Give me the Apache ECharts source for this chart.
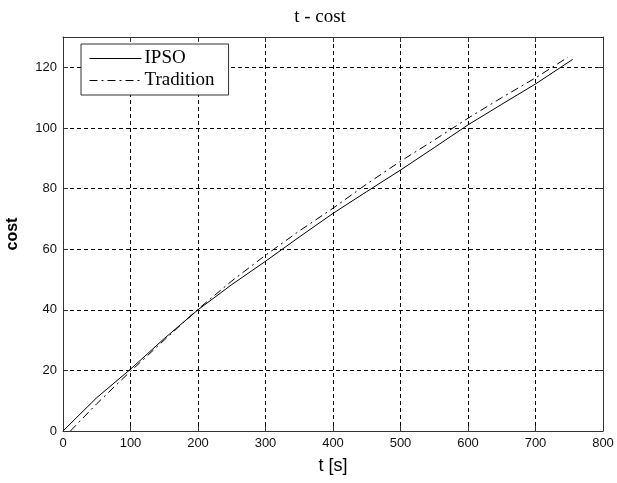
<!DOCTYPE html>
<html>
<head>
<meta charset="utf-8">
<script src="https://cdn.jsdelivr.net/npm/echarts@6/dist/echarts.min.js"></script>
<style>html,body{margin:0;padding:0;background:#fff;}#c{width:617px;height:483px;}</style>
</head>
<body>
<div id="c"></div>
<script>
var titleText = 't - cost';
var seriesNames = ['IPSO', 'Tradition'];
var tIPSO    = [0, 50, 100, 150, 200, 250, 300, 350, 400, 450, 500, 550, 600, 650, 700, 755];
var costIPSO = [0, 11, 20.4, 30.5, 40, 48.3, 56, 64, 71.8, 79, 86.1, 93.5, 101, 107.8, 114.5, 122.6];
var tTrad    = [11, 50, 100, 150, 200, 250, 300, 350, 400, 450, 500, 550, 600, 650, 700, 748];
var costTrad = [0, 9, 19.7, 30, 40.2, 49.5, 58, 66, 73.5, 81.5, 89, 96, 103.2, 110, 116.5, 123.3];
var xTicks = [0, 100, 200, 300, 400, 500, 600, 700, 800];
var yTicks = [0, 20, 40, 60, 80, 100, 120];

function pairs(xs, ys) { return xs.map(function (x, i) { return [x, ys[i]]; }); }

var chart = echarts.init(document.getElementById('c'));
var sans = 'Liberation Sans';
var serif = 'Liberation Serif';
var axisCol = '#333';
var gridLine = { show: true, lineStyle: { color: '#000', type: [4, 3], width: 1 } };

chart.setOption({
  animation: false,
  backgroundColor: '#fff',
  title: {
    text: titleText, left: 315, top: 3, textAlign: 'center',
    textStyle: { fontFamily: serif, fontSize: 19, fontWeight: 'normal', color: '#000' }
  },
  grid: { left: 63, right: 14, top: 37, bottom: 52, show: false, containLabel: false, outerBoundsMode: 'none' },
  legend: {
    orient: 'vertical', left: 81, top: 44,
    padding: [5, 14, 5, 8], itemGap: 3, itemWidth: 52, itemHeight: 14,
    borderColor: '#333', borderWidth: 1, backgroundColor: '#fff',
    itemStyle: { opacity: 0 },
    lineStyle: { width: 1 },
    textStyle: { fontFamily: serif, fontSize: 19, color: '#000', padding: [0, 0, 0, -2] },
    data: seriesNames
  },
  xAxis: [{
    type: 'value', min: xTicks[0], max: xTicks[xTicks.length - 1], interval: 100,
    name: 't [s]', nameLocation: 'middle', nameGap: 26,
    nameTextStyle: { fontFamily: sans, fontSize: 18, color: '#000' },
    axisLine: { show: true, onZero: false, lineStyle: { color: axisCol } },
    axisTick: { show: true, inside: true, length: 5, lineStyle: { color: axisCol } },
    axisLabel: { fontFamily: sans, fontSize: 13, color: '#111', margin: 6 },
    splitLine: gridLine
  }, {
    type: 'value', position: 'top', min: xTicks[0], max: xTicks[xTicks.length - 1], interval: 100,
    axisLine: { show: true, onZero: false, lineStyle: { color: axisCol } },
    axisTick: { show: true, inside: true, length: 5, lineStyle: { color: axisCol } },
    axisLabel: { show: false }, splitLine: { show: false }
  }],
  yAxis: [{
    type: 'value', min: 0, max: 130, interval: 20,
    name: 'cost', nameLocation: 'middle', nameGap: 42,
    nameTextStyle: { fontFamily: sans, fontSize: 16, fontWeight: 'bold', color: '#000' },
    axisLine: { show: true, onZero: false, lineStyle: { color: axisCol } },
    axisTick: { show: true, inside: true, length: 5, lineStyle: { color: axisCol } },
    axisLabel: { fontFamily: sans, fontSize: 13, color: '#111', margin: 6, showMaxLabel: false,
      formatter: function (v) { return yTicks.indexOf(v) >= 0 ? String(v) : ''; } },
    splitLine: gridLine
  }, {
    type: 'value', position: 'right', min: 0, max: 130, interval: 20,
    axisLine: { show: true, onZero: false, lineStyle: { color: axisCol } },
    axisTick: { show: true, inside: true, length: 5, lineStyle: { color: axisCol } },
    axisLabel: { show: false }, splitLine: { show: false }
  }],
  series: [{
    name: seriesNames[0], type: 'line', symbol: 'none', data: pairs(tIPSO, costIPSO),
    lineStyle: { color: '#000', width: 1, type: 'solid' }, itemStyle: { color: '#000' }
  }, {
    name: seriesNames[1], type: 'line', symbol: 'none', data: pairs(tTrad, costTrad),
    lineStyle: { color: '#000', width: 1, type: [8, 4, 2, 4] }, itemStyle: { color: '#000' }
  }]
});
</script>
</body>
</html>
